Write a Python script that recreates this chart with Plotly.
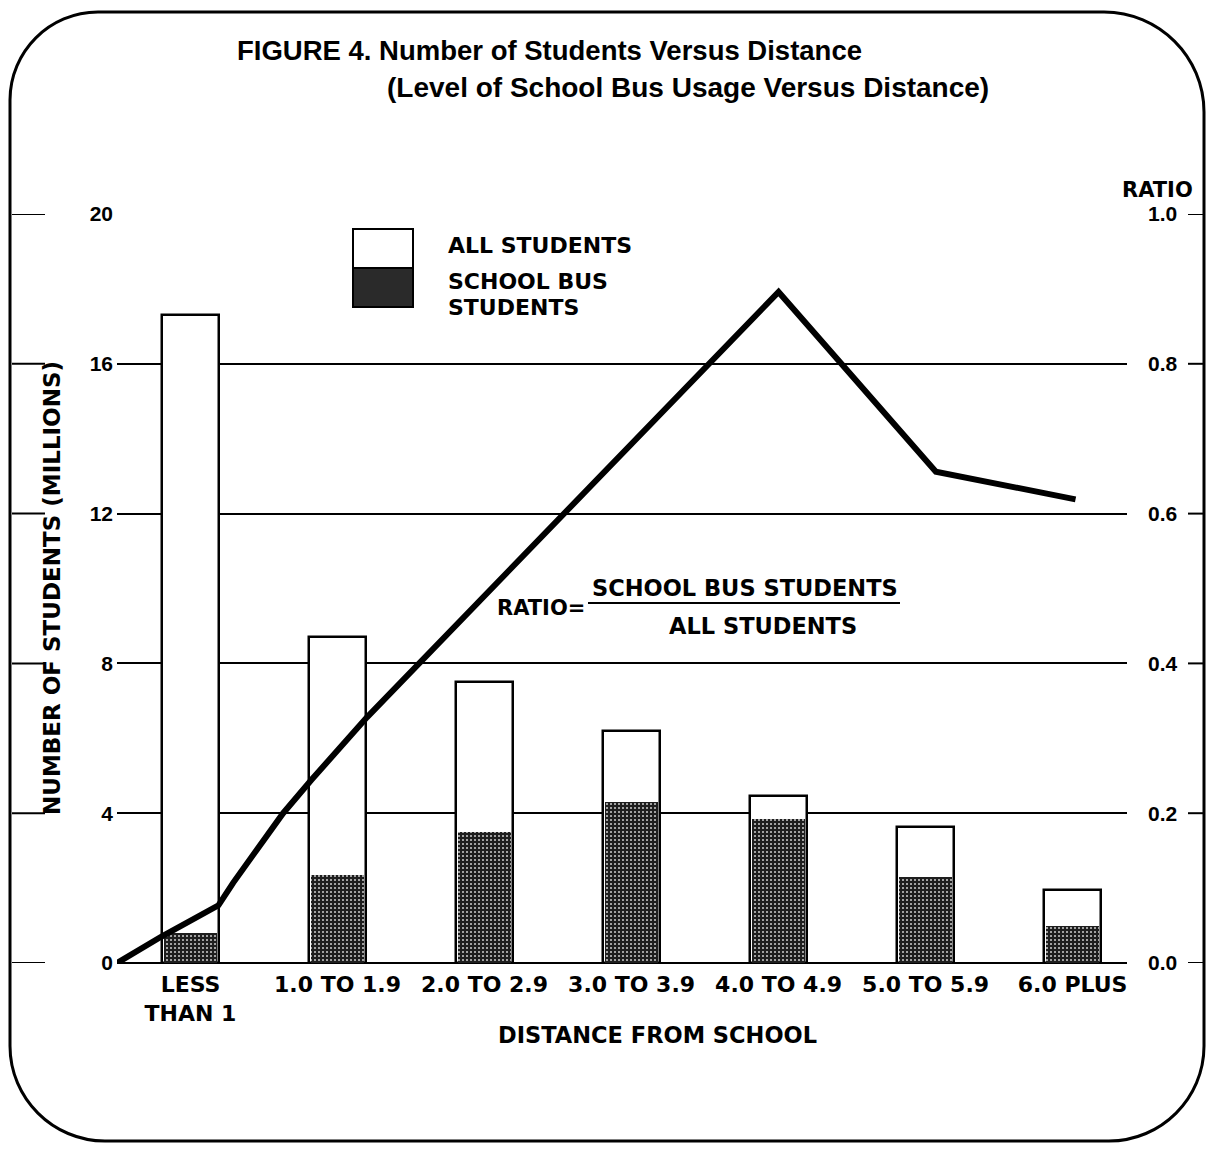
import plotly.graph_objects as go

# ---------------- data ----------------
categories = ["LESS<br>THAN 1", "1.0 TO 1.9", "2.0 TO 2.9", "3.0 TO 3.9",
              "4.0 TO 4.9", "5.0 TO 5.9", "6.0 PLUS"]
all_students = [17.3, 8.7, 7.5, 6.2, 4.45, 3.63, 1.95]      # millions
bus_students = [0.8, 2.35, 3.5, 4.3, 3.85, 2.3, 1.0]        # millions
ratio_x = [-0.5, -0.2, 0.19, 0.29, 0.45, 0.63, 0.82, 1.2, 4.0, 5.07, 6.02]
ratio_y = [0.0, 0.035, 0.077, 0.107, 0.151, 0.2, 0.244, 0.328, 0.896, 0.656, 0.619]
left_ticks = [0, 4, 8, 12, 16, 20]
right_ticks = [0.0, 0.2, 0.4, 0.6, 0.8, 1.0]

x_pos = list(range(len(categories)))

# ---------------- layout geometry ----------------
# page body has an 8px margin; figure is sized/placed to compensate
OFF = 8
W, H = 1199, 1136
PL, PR, PT, PB = 117, 1127, 214, 963          # plot area in page pixels
ML, MT = PL - OFF, PT - OFF
MR = W - (PR - OFF)
MB = H - (PB - OFF)
PW = PR - PL
PH = PB - PT


def px(x):
    return (x - PL) / PW


def py(y):
    return (PB - y) / PH


BOLD = "DejaVu Sans"
NUM = "Liberation Sans"

fig = go.Figure()

fig.add_trace(go.Bar(
    x=x_pos, y=all_students, width=0.39, name="ALL STUDENTS",
    marker=dict(color="white", line=dict(color="black", width=2.5)),
    showlegend=False))

fig.add_trace(go.Bar(
    x=x_pos, y=bus_students, width=0.36, name="SCHOOL BUS STUDENTS",
    marker=dict(color="#1e1e1e", line=dict(color="#1e1e1e", width=0),
                pattern=dict(shape=".", fillmode="replace", bgcolor="#1e1e1e",
                             fgcolor="#cfcfcf", size=4, solidity=0.2)),
    showlegend=False))

fig.add_trace(go.Scatter(
    x=ratio_x, y=ratio_y, yaxis="y2", mode="lines",
    line=dict(color="black", width=6), showlegend=False))

shapes = []
# short dashes outside the grid at each level
for t in left_ticks:
    shapes.append(dict(type="line", xref="paper", yref="y", x0=px(12), x1=px(45),
                       y0=t, y1=t, line=dict(color="black", width=2)))
    shapes.append(dict(type="line", xref="paper", yref="y", x0=px(1188), x1=px(1204),
                       y0=t, y1=t, line=dict(color="black", width=2)))

# rounded border
L, R, T, B = 10, 1204, 12, 1141
k = 0.45


def P(x, y):
    return f"{px(x):.5f},{py(y):.5f}"


r1, r2, r3, r4 = 88, 100, 95, 95
path = (f"M {P(L, T + r1)} C {P(L, T + r1 * k)} {P(L + r1 * k, T)} {P(L + r1, T)} "
        f"L {P(R - r2, T)} C {P(R - r2 * k, T)} {P(R, T + r2 * k)} {P(R, T + r2)} "
        f"L {P(R, B - r3)} C {P(R, B - r3 * k)} {P(R - r3 * k, B)} {P(R - r3, B)} "
        f"L {P(L + r4, B)} C {P(L + r4 * k, B)} {P(L, B - r4 * k)} {P(L, B - r4)} Z")
shapes.append(dict(type="path", xref="paper", yref="paper", path=path,
                   line=dict(color="black", width=3), layer="above"))

# legend swatch
shapes.append(dict(type="rect", xref="paper", yref="paper", x0=px(353), x1=px(413),
                   y0=py(268), y1=py(229), fillcolor="white",
                   line=dict(color="black", width=2), layer="above"))
shapes.append(dict(type="rect", xref="paper", yref="paper", x0=px(353), x1=px(413),
                   y0=py(307), y1=py(268), fillcolor="#2a2a2a",
                   line=dict(color="black", width=2), layer="above"))
# fraction bar
shapes.append(dict(type="line", xref="paper", yref="paper", x0=px(588), x1=px(900),
                   y0=py(603), y1=py(603), line=dict(color="black", width=2), layer="above"))


def ann(text, x, y, size=22, font=BOLD, xanchor="center", angle=0):
    return dict(text=text, x=px(x), y=py(y), xref="paper", yref="paper",
                xanchor=xanchor, yanchor="middle", showarrow=False, textangle=angle,
                font=dict(family=font, size=size, color="black"))


annotations = [
    ann("<b>FIGURE 4. Number of Students Versus Distance</b>", 235, 50, 27.5, NUM, "left"),
    ann("<b>(Level of School Bus Usage Versus Distance)</b>", 385, 88, 28, NUM, "left"),
    ann("<b>ALL STUDENTS</b>", 446, 245, 22, BOLD, "left"),
    ann("<b>SCHOOL BUS</b>", 446, 281, 22, BOLD, "left"),
    ann("<b>STUDENTS</b>", 446, 307, 22, BOLD, "left"),
    ann("<b>RATIO=</b>", 495, 608, 21, BOLD, "left"),
    ann("<b>SCHOOL BUS STUDENTS</b>", 745, 588, 22.5),
    ann("<b>ALL STUDENTS</b>", 763, 626, 22.5),
    ann("<b>RATIO</b>", 1157, 190, 21, BOLD),
    ann("<b>DISTANCE FROM SCHOOL</b>", 657, 1035, 22.5),
    ann("<b>NUMBER OF STUDENTS (MILLIONS)</b>", 52, 588, 23, BOLD, "center", -90),
]

fig.update_layout(
    width=W, height=H,
    margin=dict(l=ML, r=MR, t=MT, b=MB, pad=0),
    paper_bgcolor="white", plot_bgcolor="white",
    barmode="overlay", bargap=0,
    showlegend=False,
    xaxis=dict(range=[-0.5, 6.37], tickvals=x_pos, ticktext=[f"<b>{c}</b>" for c in categories],
               showgrid=False, zeroline=False, showline=False, ticks="",
               ticklabelstandoff=6,
               tickfont=dict(family=BOLD, size=22, color="black")),
    yaxis=dict(range=[0, 20], tickvals=left_ticks,
               ticktext=[f"<b>{t}</b>" for t in left_ticks],
               showgrid=True, gridcolor="black", gridwidth=2,
               zeroline=True, zerolinecolor="black", zerolinewidth=2,
               showline=False, ticks="", ticklabelstandoff=3,
               tickfont=dict(family=NUM, size=21, color="black")),
    yaxis2=dict(range=[0, 1], overlaying="y", side="right", tickvals=right_ticks,
                ticktext=[f"<b>{t:.1f}</b>" for t in right_ticks],
                showgrid=False, zeroline=False, showline=False, ticks="",
                ticklabelstandoff=20,
                tickfont=dict(family=NUM, size=21, color="black")),
    shapes=shapes,
    annotations=annotations,
)

fig.write_html("out.html")
